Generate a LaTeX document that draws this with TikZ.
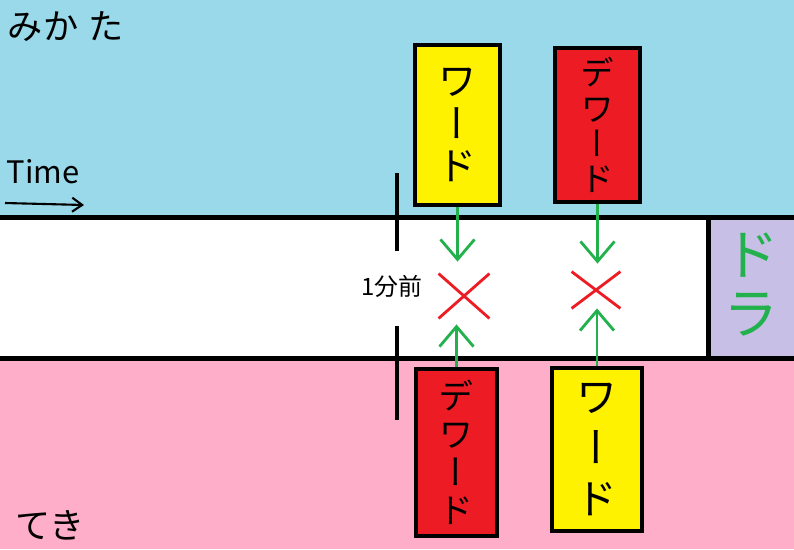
\documentclass[tikz,border=0pt]{standalone}
\usepackage{fontspec}
\setmainfont{Noto Sans CJK JP}
\newfontfamily\tatefont[RawFeature=+vert]{Noto Sans CJK JP}
\usetikzlibrary{arrows.meta,shapes.misc}

\definecolor{skyband}{RGB}{153,217,234}
\definecolor{pinkband}{RGB}{255,174,201}
\definecolor{doraviolet}{RGB}{200,191,231}
\definecolor{paintyellow}{RGB}{255,242,0}
\definecolor{paintred}{RGB}{237,28,36}
\definecolor{paintgreen}{RGB}{34,177,76}

\tikzset{
  wordbox/.style={draw=black, line width=2.5pt, inner sep=0pt, align=center,
    font=\tatefont\fontsize{28}{30}\selectfont},
  clash/.style={cross out, draw=paintred, line width=2pt, inner sep=0pt},
  closein/.style={draw=paintgreen, line width=2pt,
    -{Straight Barb[length=0.5cm,width=0.85cm]}},
  bandline/.style={draw=black, line width=3.5pt},
  marker/.style={draw=black, line width=3pt},
  sidelabel/.style={font=\fontsize{25}{28}\selectfont, inner sep=0pt}
}

\begin{document}
\begin{tikzpicture}[x=0.025cm, y=-0.025cm]
\useasboundingbox (0,0) rectangle (794,549);
\fill[skyband] (0,0) rectangle (794,217.5);
\fill[white] (0,217.5) rectangle (794,358.5);
\fill[pinkband] (0,358.5) rectangle (794,549);
\fill[doraviolet] (708.5,217.5) rectangle (794,358.5);
\draw[bandline] (0,217.5) -- (794,217.5);
\draw[bandline] (0,358.5) -- (794,358.5);
\draw[bandline] (708.5,217.5) -- (708.5,358.5);

\node[sidelabel] (ally) at (66,27) {みか\hspace{0.3em}た};
\node[sidelabel] (enemy) at (50,525) {てき};
\node[sidelabel, font=\fontsize{22}{26}\selectfont] (timelbl) at (43,172) {Time};
\coordinate (timestart) at (5,203);
\coordinate (timeend) at (84,205);
\draw[line width=1.5pt, -{Straight Barb[length=0.25cm,width=0.35cm]}] (timestart) -- (timeend);

\draw[marker] (397,173) -- (397,251);
\draw[marker] (397,326) -- (397,420);
\node[font=\fontsize{17}{19}\selectfont, inner sep=0pt] (ago) at (392,286) {1分前};

\node[wordbox, fill=paintyellow, minimum width=2.125cm, minimum height=4cm] (wordA) at (457.5,125) {ワ\\ー\\ド};
\node[wordbox, fill=paintred, minimum width=2.125cm, minimum height=3.85cm,
  font=\tatefont\fontsize{24}{25}\selectfont] (dewordA) at (597.5,125) {デ\\ワ\\ー\\ド};
\node[wordbox, fill=paintred, minimum width=2.025cm, minimum height=4.175cm,
  font=\tatefont\fontsize{25}{27}\selectfont] (dewordB) at (456.5,452.5) {デ\\ワ\\ー\\ド};
\node[wordbox, fill=paintyellow, minimum width=2.25cm, minimum height=4.075cm,
  font=\tatefont\fontsize{30}{36}\selectfont] (wordB) at (597,449.5) {ワ\\ー\\ド};

\node[clash, minimum width=1.2cm, minimum height=1.05cm] (clashA) at (464,296) {};
\node[clash, minimum width=1.15cm, minimum height=0.85cm] (clashB) at (596,290) {};

\draw[closein, shorten >=0.3cm] (wordA.south) -- (wordA.south |- clashA.north);
\draw[closein, shorten >=0.15cm] (dewordB.north) -- (dewordB.north |- clashA.south);
\draw[closein, shorten >=0.2cm] (dewordA.south) -- (dewordA.south |- clashB.north);
\draw[closein] (wordB.north) -- (wordB.north |- clashB.south);

\node[font=\tatefont\fontsize{40}{42}\selectfont, text=paintgreen, align=center, inner sep=0pt] (dora) at (752,285) {ド\\ラ};
\end{tikzpicture}
\end{document}
